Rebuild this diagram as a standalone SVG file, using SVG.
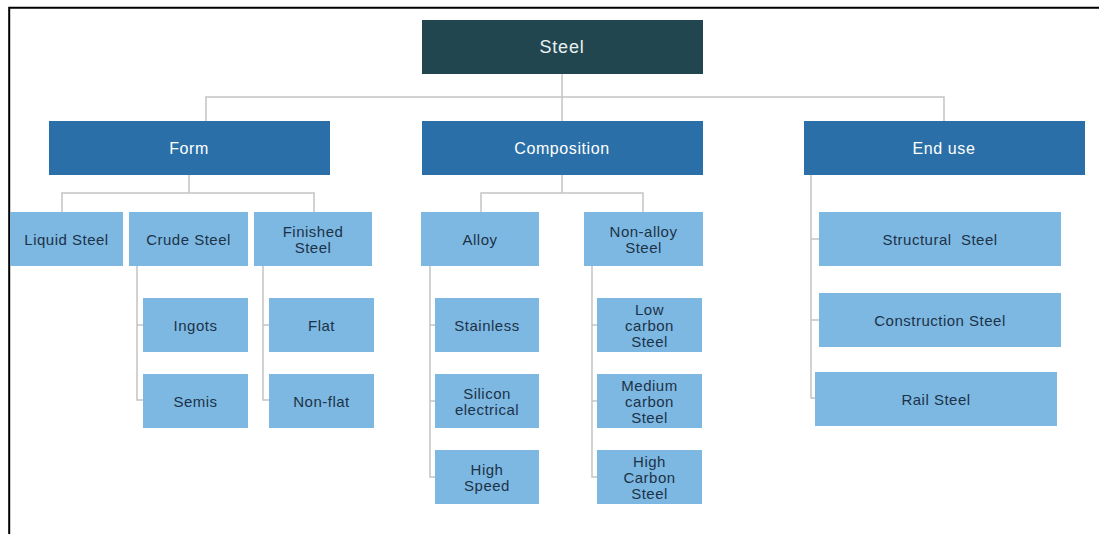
<svg xmlns="http://www.w3.org/2000/svg" width="1099" height="534" viewBox="0 0 1099 534">
<style>
.bg{fill:#ffffff}
.frame{fill:none;stroke:#000;stroke-width:2}
.root{fill:#22464f}
.hdr{fill:#2a6fa7}
.leaf{fill:#7db8e2}
.conn{fill:none;stroke:#c4c4c4;stroke-width:1.5}
text{font-family:"Liberation Sans",Arial,sans-serif;text-anchor:middle;dominant-baseline:central}
.tw{fill:#ffffff;font-size:16px;letter-spacing:0.6px}
.tr{fill:#e8f0f2;font-size:18px;letter-spacing:0.8px}
.td{fill:#1c3248;font-size:15px;letter-spacing:0.5px}
</style>
<rect class="bg" x="0" y="0" width="1099" height="534"/>
<path class="frame" d="M9.2,534 V7.7 H1099"/>
<g id="connectors">
<path class="conn" d="M562,74 V97 M206,121 V97 H944 V121 M562,97 V121"/>
<path class="conn" d="M189,175 V193 M62,212 V193 H314 V212"/>
<path class="conn" d="M137,266 V400 H143 M137,325 H143"/>
<path class="conn" d="M263,266 V400 H269 M263,325 H269"/>
<path class="conn" d="M562,175 V193 M481,212 V193 H643 V212"/>
<path class="conn" d="M430,266 V477 H435 M430,325 H435 M430,401 H435"/>
<path class="conn" d="M592,266 V477 H597 M592,325 H597 M592,401 H597"/>
<path class="conn" d="M811,175 V398 H815 M811,239 H819 M811,320 H819"/>
</g>
<g id="steel"><rect class="root" x="422" y="20" width="281" height="54"/><text class="tr" x="562" y="47">Steel</text></g>
<g id="form"><rect class="hdr" x="49" y="121" width="281" height="54"/><text class="tw" x="189" y="148">Form</text></g>
<g id="composition"><rect class="hdr" x="422" y="121" width="281" height="54"/><text class="tw" x="562" y="148">Composition</text></g>
<g id="enduse"><rect class="hdr" x="804" y="121" width="281" height="54"/><text class="tw" x="944" y="148">End use</text></g>
<g id="liquid"><rect class="leaf" x="10" y="212" width="113" height="54"/><text class="td" x="66.5" y="239">Liquid Steel</text></g>
<g id="crude"><rect class="leaf" x="129" y="212" width="119" height="54"/><text class="td" x="188.5" y="239">Crude Steel</text></g>
<g id="finished"><rect class="leaf" x="254" y="212" width="118" height="54"/><text class="td" x="313" y="231">Finished</text><text class="td" x="313" y="247">Steel</text></g>
<g id="ingots"><rect class="leaf" x="143" y="298" width="105" height="54"/><text class="td" x="195.5" y="325">Ingots</text></g>
<g id="semis"><rect class="leaf" x="143" y="374" width="105" height="54"/><text class="td" x="195.5" y="401">Semis</text></g>
<g id="flat"><rect class="leaf" x="269" y="298" width="105" height="54"/><text class="td" x="321.5" y="325">Flat</text></g>
<g id="nonflat"><rect class="leaf" x="269" y="374" width="105" height="54"/><text class="td" x="321.5" y="401">Non-flat</text></g>
<g id="alloy"><rect class="leaf" x="421" y="212" width="118" height="54"/><text class="td" x="480" y="239">Alloy</text></g>
<g id="nonalloy"><rect class="leaf" x="584" y="212" width="119" height="54"/><text class="td" x="643.5" y="231">Non-alloy</text><text class="td" x="643.5" y="247">Steel</text></g>
<g id="stainless"><rect class="leaf" x="435" y="298" width="104" height="54"/><text class="td" x="487" y="325">Stainless</text></g>
<g id="silicon"><rect class="leaf" x="435" y="374" width="104" height="54"/><text class="td" x="487" y="393">Silicon</text><text class="td" x="487" y="409">electrical</text></g>
<g id="highspeed"><rect class="leaf" x="435" y="450" width="104" height="54"/><text class="td" x="487" y="469">High</text><text class="td" x="487" y="485">Speed</text></g>
<g id="lowcarbon"><rect class="leaf" x="597" y="298" width="105" height="54"/><text class="td" x="649.5" y="309">Low</text><text class="td" x="649.5" y="325">carbon</text><text class="td" x="649.5" y="341">Steel</text></g>
<g id="mediumcarbon"><rect class="leaf" x="597" y="374" width="105" height="54"/><text class="td" x="649.5" y="385">Medium</text><text class="td" x="649.5" y="401">carbon</text><text class="td" x="649.5" y="417">Steel</text></g>
<g id="highcarbon"><rect class="leaf" x="597" y="450" width="105" height="54"/><text class="td" x="649.5" y="461">High</text><text class="td" x="649.5" y="477">Carbon</text><text class="td" x="649.5" y="493">Steel</text></g>
<g id="structural"><rect class="leaf" x="819" y="212" width="242" height="54"/><text class="td" x="940" y="239" xml:space="preserve">Structural  Steel</text></g>
<g id="construction"><rect class="leaf" x="819" y="293" width="242" height="54"/><text class="td" x="940" y="320">Construction Steel</text></g>
<g id="rail"><rect class="leaf" x="815" y="372" width="242" height="54"/><text class="td" x="936" y="399">Rail Steel</text></g>
</svg>
